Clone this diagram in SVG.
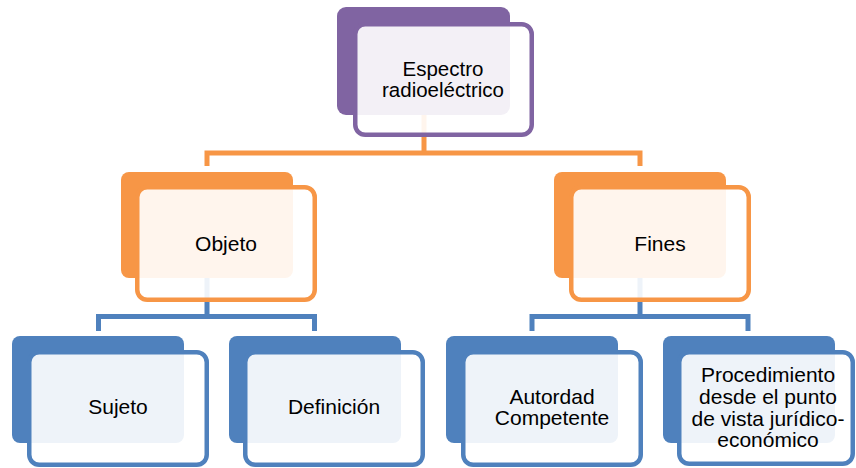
<svg xmlns="http://www.w3.org/2000/svg" width="856" height="468" viewBox="0 0 856 468">
<style>
.lbl{font-family:"Liberation Sans",Arial,sans-serif;font-size:21px;fill:#000;text-anchor:middle}
.sm{font-size:20.5px}
.front{fill:#fff;fill-opacity:0.9;stroke-width:4.5}
.p .back{fill:#8064a2}.p .front{stroke:#8064a2}
.o .back{fill:#f79646}.o .front{stroke:#f79646}
.b .back{fill:#4f81bd}.b .front{stroke:#4f81bd}
.c{fill:none;stroke-width:5;stroke-linejoin:miter}
</style>
<rect width="856" height="468" fill="#fff"/>
<g id="connectors">
<path class="c" stroke="#f79646" d="M424,115 V153 M207,166 V153 H640 V166"/>
<path class="c" stroke="#4f81bd" d="M207,278 V316.5 M98.5,331 V316.5 H314.5 V331"/>
<path class="c" stroke="#4f81bd" d="M640,278 V316.5 M532,331 V316.5 H748 V331"/>
</g>
<g id="n-espectro" class="p">
<rect class="back" x="337" y="7" width="173" height="108" rx="9"/>
<rect class="front" x="355.25" y="24.25" width="176.5" height="110.5" rx="10"/>
<text class="lbl sm" x="443" y="75.5">Espectro</text>
<text class="lbl sm" x="443" y="97">radioeléctrico</text>
</g>
<g id="n-objeto" class="o">
<rect class="back" x="121" y="172" width="172" height="106" rx="8"/>
<rect class="front" x="137.25" y="187.25" width="177.5" height="112.5" rx="10"/>
<text class="lbl" x="226" y="251">Objeto</text>
</g>
<g id="n-fines" class="o">
<rect class="back" x="554" y="172" width="172" height="106" rx="8"/>
<rect class="front" x="571.25" y="187.25" width="177.5" height="112.5" rx="10"/>
<text class="lbl" x="660" y="251">Fines</text>
</g>
<g id="n-sujeto" class="b">
<rect class="back" x="12" y="336" width="172" height="107" rx="8"/>
<rect class="front" x="29.25" y="352.25" width="177.5" height="112.5" rx="10"/>
<text class="lbl" x="118" y="414">Sujeto</text>
</g>
<g id="n-definicion" class="b">
<rect class="back" x="229" y="336" width="172" height="107" rx="8"/>
<rect class="front" x="245.25" y="352.25" width="177.5" height="112.5" rx="10"/>
<text class="lbl" x="334" y="414">Definición</text>
</g>
<g id="n-autoridad" class="b">
<rect class="back" x="446" y="336" width="172" height="107" rx="8"/>
<rect class="front" x="463.25" y="352.25" width="177.5" height="112.5" rx="10"/>
<text class="lbl" x="552" y="404">Autordad</text>
<text class="lbl" x="552" y="425">Competente</text>
</g>
<g id="n-procedimiento" class="b">
<rect class="back" x="663" y="336" width="172" height="107" rx="8"/>
<rect class="front" x="679.25" y="352.25" width="173.5" height="111.5" rx="10"/>
<text class="lbl" x="768" y="382">Procedimiento</text>
<text class="lbl" x="768" y="404">desde el punto</text>
<text class="lbl" x="768" y="426">de vista jurídico-</text>
<text class="lbl" x="768" y="447">económico</text>
</g>
</svg>
